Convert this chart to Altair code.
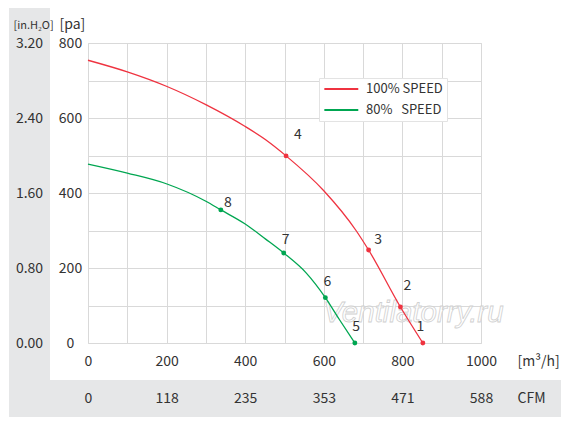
import altair as alt
import pandas as pd

# ---- data ----
series_names = ["100% SPEED", "80%\u00a0\u00a0\u00a0SPEED"]
series_colors = ["#ef3340", "#00a651"]

# 100% speed curve (m3/h, Pa)
q100 = [0, 100, 201, 301, 399, 452, 504, 600, 682, 714, 795, 852]
p100 = [754, 723, 684, 635, 578, 542, 499, 406, 300, 248, 96, 0]
# 80% speed curve
q80 = [0, 100, 201, 300, 338, 399, 452, 498, 555, 604, 640, 679]
p80 = [477, 453, 424, 378, 355, 318, 277, 240, 187, 121, 62, 0]

# numbered operating points
pt_ids = ["1", "2", "3", "4", "5", "6", "7", "8"]
pt_series = [0, 0, 0, 0, 1, 1, 1, 1]
pt_q = [852, 795, 714, 504, 679, 604, 498, 338]
pt_p = [0, 96, 248, 499, 0, 121, 240, 355]
lbl_q = [846, 813, 738, 534, 682, 609, 503, 356]
lbl_p = [44, 151, 275, 555, 44, 163, 274, 373]

# axis tick labels
m3h_ticks = [0, 100, 200, 300, 400, 500, 600, 700, 800, 900, 1000]
cfm_ticks = [0, 200, 400, 600, 800, 1000]
cfm_labels = ["0", "118", "235", "353", "471", "588"]
pa_ticks = [0, 100, 200, 300, 400, 500, 600, 700, 800]
inh2o_ticks = [0, 200, 400, 600, 800]
inh2o_labels = ["0.00", "0.80", "1.60", "2.40", "3.20"]

watermark = "Ventilatorry.ru"
wm_q, wm_p = [828], [81]

# ---- tables ----
curves = pd.DataFrame(
    {"q": q100 + q80, "p": p100 + p80,
     "series": [series_names[0]] * len(q100) + [series_names[1]] * len(q80),
     "order": list(range(len(q100))) + list(range(len(q80)))}
)
points = pd.DataFrame(
    {"id": pt_ids, "q": pt_q, "p": pt_p, "lq": lbl_q, "lp": lbl_p,
     "series": [series_names[i] for i in pt_series]}
)
wm = pd.DataFrame({"q": wm_q, "p": wm_p, "t": [watermark]})

FONT = "Noto Sans CJK SC"
TXT = "#333333"
GRAY = "#e6e7e8"

xscale = alt.Scale(domain=[0, 1000], nice=False, zero=False)
yscale = alt.Scale(domain=[0, 800], nice=False, zero=False)
cscale = alt.Scale(domain=series_names, range=series_colors)


def arr(lst):
    return "[" + ",".join("'%s'" % s for s in lst) + "]"


x_main = alt.Axis(values=m3h_ticks, grid=True, gridColor="#d9d9d9", domain=False, ticks=False,
                  tickSize=0, labelFlush=False, labelPadding=18, labelBaseline="middle",
                  labelExpr="datum.value % 200 == 0 ? format(datum.value, 'd') : ''",
                  labelFontSize=14, labelColor=TXT, labelFont=FONT,
                  title="[m\u00b3/h]", titleAngle=0, titleAlign="left", titleBaseline="middle",
                  titleX=429, titleY=18, titleFontSize=14, titleFontWeight="normal",
                  titleColor=TXT, titleFont=FONT)
y_main = alt.Axis(values=pa_ticks, grid=True, gridColor="#d9d9d9", domain=False, ticks=False,
                  tickSize=0, labelPadding=18, labelAlign="center", labelBaseline="middle",
                  labelExpr="datum.value % 200 == 0 ? format(datum.value, 'd') : ''",
                  labelFontSize=14, labelColor=TXT, labelFont=FONT,
                  title="[pa]", titleAngle=0, titleAlign="left", titleBaseline="middle",
                  titleX=-29, titleY=-19, titleFontSize=14, titleFontWeight="normal",
                  titleColor=TXT, titleFont=FONT)
x_cfm = alt.Axis(orient="bottom", offset=37, values=cfm_ticks, grid=False, domain=False,
                 ticks=False, tickSize=0, labelFlush=False, labelPadding=18,
                 labelBaseline="middle", labelExpr=arr(cfm_labels) + "[round(datum.value/200)]",
                 labelFontSize=14, labelColor=TXT, labelFont=FONT, zindex=2,
                 title="CFM", titleAngle=0, titleAlign="left", titleBaseline="middle",
                 titleX=429, titleY=18, titleFontSize=14, titleFontWeight="normal",
                 titleColor=TXT, titleFont=FONT)
y_in = alt.Axis(orient="left", offset=41, values=inh2o_ticks, grid=False, domain=False,
                ticks=False, tickSize=0, labelPadding=18, labelAlign="center",
                labelBaseline="middle", labelExpr=arr(inh2o_labels) + "[round(datum.value/200)]",
                labelFontSize=14, labelColor=TXT, labelFont=FONT, zindex=2,
                title="[in.H\u2082O]", titleAngle=0, titleAlign="left", titleBaseline="middle",
                titleX=-34, titleY=-18, titleFontSize=11, titleFontWeight="normal",
                titleColor=TXT, titleFont=FONT)

one = alt.Data(values=[{}])
bg_left = alt.Chart(one).mark_rect(color=GRAY).encode(
    x=alt.value(-79), x2=alt.value(-38), y=alt.value(-35), y2=alt.value(337))
bg_bottom = alt.Chart(one).mark_rect(color=GRAY).encode(
    x=alt.value(-79), x2=alt.value(475), y=alt.value(337), y2=alt.value(374))

lines = alt.Chart(curves).mark_line(strokeWidth=1.3, interpolate="monotone").encode(
    x=alt.X("q:Q", scale=xscale, axis=x_main),
    y=alt.Y("p:Q", scale=yscale, axis=y_main),
    color=alt.Color("series:N", scale=cscale, legend=alt.Legend(
        title=None, orient="none", legendX=231, legendY=35, symbolType="M-1,0H5",
        symbolSize=128, symbolStrokeWidth=2, labelFontSize=13, labelFont=FONT,
        labelColor=TXT, labelOffset=29, padding=4, rowPadding=7,
        strokeColor="#e3e3e3", fillColor="white")),
    order="order:Q",
)

wm_text = alt.Chart(wm).mark_text(
    fontSize=29.5, fontStyle="italic", font="Liberation Sans", fill="#ffffff",
    fillOpacity=0.85, stroke="#d0d0d0", strokeWidth=0.8).encode(
    x=alt.X("q:Q", scale=xscale, axis=None),
    y=alt.Y("p:Q", scale=yscale, axis=None),
    text="t:N",
)

pts = alt.Chart(points).mark_circle(size=24, opacity=1).encode(
    x=alt.X("q:Q", scale=xscale, axis=x_cfm),
    y=alt.Y("p:Q", scale=yscale, axis=y_in),
    color=alt.Color("series:N", scale=cscale, legend=None),
)

labels = alt.Chart(points).mark_text(fontSize=14, font=FONT, color=TXT).encode(
    x=alt.X("lq:Q", scale=xscale, axis=None),
    y=alt.Y("lp:Q", scale=yscale, axis=None),
    text="id:N",
)

chart = alt.layer(bg_left, bg_bottom, wm_text, lines, pts, labels).resolve_axis(
    x="independent", y="independent"
).properties(
    width=393, height=300,
    autosize=alt.AutoSizeParams(type="none"),
    padding={"left": 80, "top": 35, "right": 80, "bottom": 79},
).configure_view(stroke=None).configure(font=FONT)

chart.save("out.html", embed_options={"renderer": "svg", "actions": False})
